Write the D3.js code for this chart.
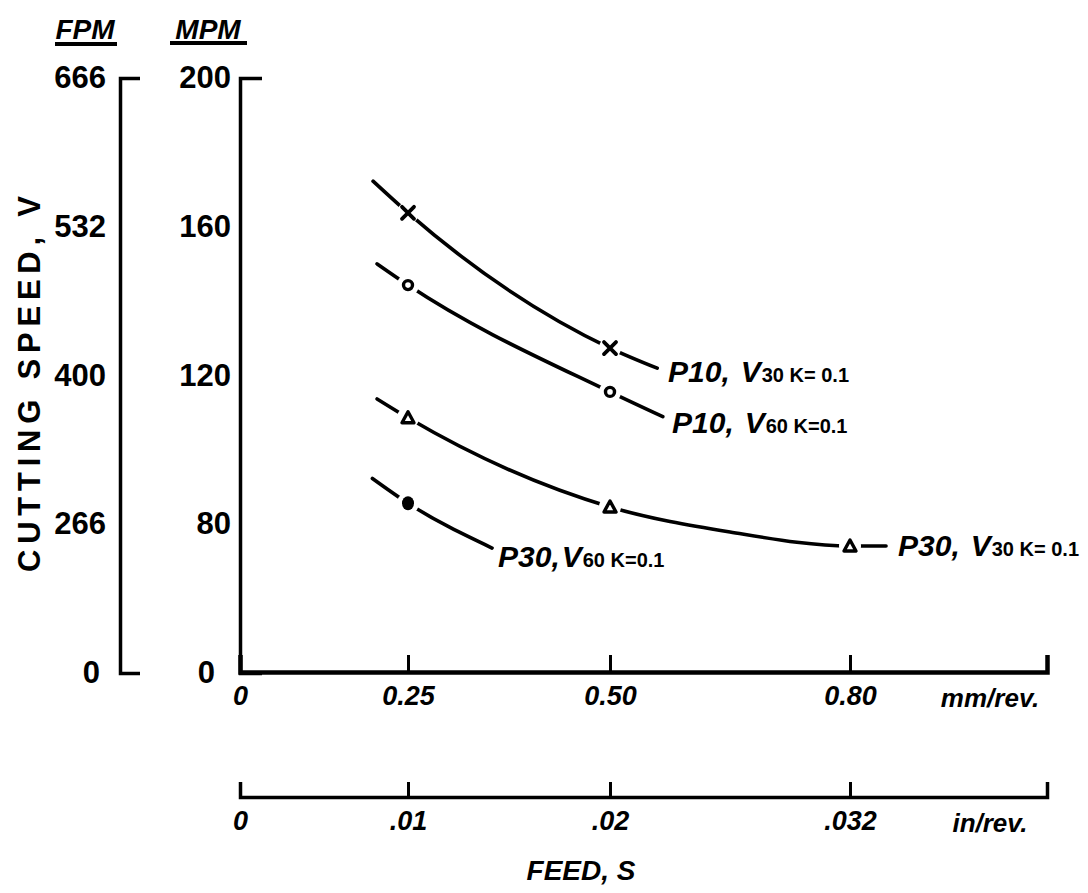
<!DOCTYPE html>
<html>
<head>
<meta charset="utf-8">
<script src="https://cdn.jsdelivr.net/npm/d3@7"></script>
<style>
  html, body { margin: 0; padding: 0; background: #fff; }
  svg { display: block; }
  text { font-family: "Liberation Sans", Arial, sans-serif; font-weight: bold; fill: #000; }
</style>
</head>
<body>
<svg id="chart" width="1088" height="893"></svg>
<script>
// ---- data ----
const mmTicks   = [0, 0.25, 0.50, 0.80];
const mmLabels  = ["0", "0.25", "0.50", "0.80"];
const inTicks   = [0, 0.01, 0.02, 0.032];
const inLabels  = ["0", ".01", ".02", ".032"];
const mpmTicks  = [0, 80, 120, 160, 200];
const fpmTicks  = [0, 266, 400, 532, 666];

// curves: [feed mm/rev, speed m/min]
const p10v30Curve = [[0.198, 172.3], [0.25, 163.8], [0.50, 127.5], [0.559, 122.1]];
const p10v60Curve = [[0.204, 150.1], [0.25, 144.4], [0.50, 115.7], [0.566, 109.0]];
const p30v30Curve = [[0.204, 113.8], [0.25, 108.7], [0.50, 84.6], [0.65, 75.7], [0.80, 68.2], [0.845, 68.2]];
const p30v60Curve = [[0.197, 92.3], [0.25, 85.6], [0.354, 67.1]];
// measured points (markers)
const p10v30Points = [[0.25, 163.8], [0.50, 127.5]];
const p10v60Points = [[0.25, 144.4], [0.50, 115.7]];
const p30v30Points = [[0.25, 108.7], [0.50, 84.6], [0.80, 68.2]];
const p30v60Points = [[0.25, 85.6]];

const series = [
  { curve: p10v30Curve, points: p10v30Points, marker: "cross" },
  { curve: p10v60Curve, points: p10v60Points, marker: "circle" },
  { curve: p30v30Curve, points: p30v30Points, marker: "triangle" },
  { curve: p30v60Curve, points: p30v60Points, marker: "dot" }
];

// ---- scales (axes are hand-spaced, hence polylinear) ----
const x   = d3.scaleLinear().domain([0, 0.25, 0.50, 0.80, 1.046]).range([240, 408, 610, 850, 1047]);
const xIn = d3.scaleLinear().domain([0, 0.01, 0.02, 0.032, 0.0415]).range([240, 408, 610, 850, 1047]);
const y   = d3.scaleLinear().domain([0, 80, 120, 160, 200]).range([673, 524, 376, 227, 78]);
const yF  = d3.scaleLinear().domain([0, 266, 400, 532, 666]).range([673, 524, 376, 227, 78]);

const svg = d3.select("#chart");

function styleAxis(g, width) {
  g.selectAll(".domain").attr("stroke", "#000").attr("stroke-width", width).attr("fill", "none")
    .attr("stroke-linejoin", "miter");
  g.selectAll(".tick line").attr("stroke", "#000").attr("stroke-width", 3);
}

// FPM axis
const gF = svg.append("g").attr("transform", "translate(120,0)")
  .call(d3.axisLeft(yF).tickValues(fpmTicks).tickSizeInner(0).tickSizeOuter(-20).tickPadding(14));
styleAxis(gF, 3.5);
gF.selectAll(".tick text").attr("font-size", 31).attr("font-family", "Liberation Sans").attr("font-weight", "bold");

// MPM axis
const gM = svg.append("g").attr("transform", "translate(240,0)")
  .call(d3.axisLeft(y).tickValues(mpmTicks).tickSizeInner(0).tickSizeOuter(-22).tickPadding(9));
styleAxis(gM, 3.5);
gM.selectAll(".tick text").attr("font-size", 31).attr("font-family", "Liberation Sans").attr("font-weight", "bold");
gM.selectAll(".tick").filter(d => d === 0).select("text").attr("dx", -16);
gF.selectAll(".tick").filter(d => d === 0).select("text").attr("dx", -6);

// mm/rev axis
const gX = svg.append("g").attr("transform", "translate(0,672)")
  .call(d3.axisBottom(x).tickValues(mmTicks).tickFormat((d, i) => mmLabels[i])
    .tickSizeInner(-17).tickSizeOuter(-17).tickPadding(14));
styleAxis(gX, 4.5);
gX.selectAll(".tick text").attr("font-size", 27).attr("font-style", "italic").attr("font-family", "Liberation Sans");
gX.selectAll(".tick").filter(d => d === 0).select("line").remove();

// in/rev axis
const gI = svg.append("g").attr("transform", "translate(0,797)")
  .call(d3.axisBottom(xIn).tickValues(inTicks).tickFormat((d, i) => inLabels[i])
    .tickSizeInner(-15).tickSizeOuter(-15).tickPadding(14));
styleAxis(gI, 3.5);
gI.selectAll(".tick text").attr("font-size", 27).attr("font-style", "italic").attr("font-family", "Liberation Sans");
gI.selectAll(".tick").filter(d => d === 0).select("line").remove();

// unit labels
svg.append("text").attr("x", 990).attr("y", 707).attr("text-anchor", "middle")
  .attr("font-size", 26).attr("font-style", "italic").text("mm/rev.");
svg.append("text").attr("x", 990).attr("y", 832).attr("text-anchor", "middle")
  .attr("font-size", 26).attr("font-style", "italic").text("in/rev.");
svg.append("text").attr("x", 581).attr("y", 880).attr("text-anchor", "middle")
  .attr("font-size", 28).attr("font-style", "italic").text("FEED, S");

// axis titles
svg.append("text").attr("x", 85).attr("y", 39).attr("text-anchor", "middle")
  .attr("font-size", 28).attr("font-style", "italic").text("FPM");
svg.append("line").attr("x1", 55).attr("x2", 117).attr("y1", 44).attr("y2", 44)
  .attr("stroke", "#000").attr("stroke-width", 4);
svg.append("text").attr("x", 208).attr("y", 39).attr("text-anchor", "middle")
  .attr("font-size", 28).attr("font-style", "italic").text("MPM");
svg.append("line").attr("x1", 170).attr("x2", 247).attr("y1", 43).attr("y2", 43)
  .attr("stroke", "#000").attr("stroke-width", 4);

svg.append("text").attr("transform", "translate(40,384) rotate(-90)")
  .attr("text-anchor", "middle").attr("font-size", 31)
  .attr("textLength", 376).attr("lengthAdjust", "spacing")
  .text("CUTTING  SPEED, V");

// curves
const line = d3.line().x(d => x(d[0])).y(d => y(d[1])).curve(d3.curveMonotoneX);
const gS = svg.append("g");
series.forEach(s => {
  gS.append("path").attr("d", line(s.curve)).attr("fill", "none")
    .attr("stroke", "#000").attr("stroke-width", 3.6).attr("stroke-linecap", "round");
});

// markers with white halo (gaps in the curve)
series.forEach(s => {
  const g = gS.append("g");
  s.points.forEach(p => {
    const cx = x(p[0]), cy = y(p[1]);
    g.append("circle").attr("cx", cx).attr("cy", cy).attr("r", 11).attr("fill", "#fff");
    if (s.marker === "cross") {
      g.append("path").attr("d", `M${cx-6},${cy-6}L${cx+6},${cy+6}M${cx+6},${cy-6}L${cx-6},${cy+6}`)
        .attr("stroke", "#000").attr("stroke-width", 3.8).attr("stroke-linecap", "round");
    } else if (s.marker === "circle") {
      g.append("circle").attr("cx", cx).attr("cy", cy).attr("r", 4.5)
        .attr("fill", "none").attr("stroke", "#000").attr("stroke-width", 3.4);
    } else if (s.marker === "triangle") {
      g.append("path").attr("d", `M${cx},${cy-6}L${cx+6},${cy+5}L${cx-6},${cy+5}Z`)
        .attr("fill", "none").attr("stroke", "#000").attr("stroke-width", 3.4).attr("stroke-linejoin", "round");
    } else {
      g.append("ellipse").attr("cx", cx).attr("cy", cy).attr("rx", 6).attr("ry", 7).attr("fill", "#000");
    }
  });
});

// series labels
const seriesLabels = [
  { main: "P10,", v: "V", sub: "30 K= 0.1", x: 668, y: 382 },
  { main: "P10,", v: "V", sub: "60 K=0.1", x: 672, y: 433 },
  { main: "P30,", v: "V", sub: "60 K=0.1", x: 498, y: 567 },
  { main: "P30,", v: "V", sub: "30 K= 0.1", x: 898, y: 556 }
];
seriesLabels.forEach((l, i) => {
  const t = svg.append("text").attr("x", l.x).attr("y", l.y);
  t.append("tspan").attr("font-size", 30).attr("font-style", "italic").text(l.main);
  t.append("tspan").attr("font-size", 30).attr("font-style", "italic").attr("dx", i === 2 ? 2 : 11).text(l.v);
  t.append("tspan").attr("font-size", 20).attr("dx", 1).text(l.sub);
});
</script>
</body>
</html>
